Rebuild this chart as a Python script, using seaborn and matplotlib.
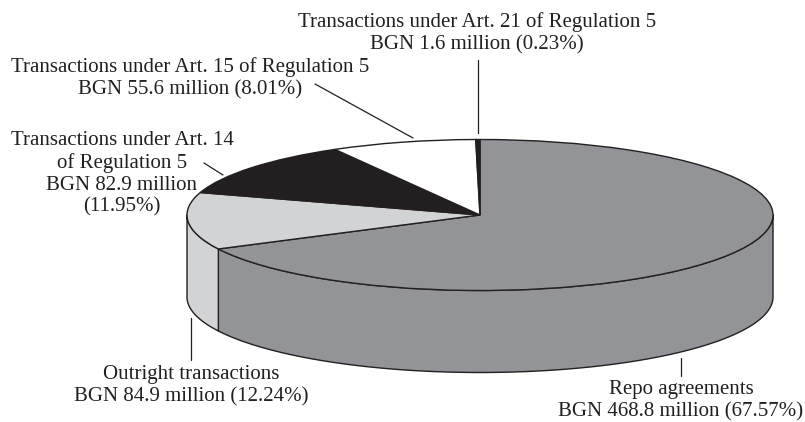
import numpy as np
import matplotlib
matplotlib.use("Agg")
import matplotlib.pyplot as plt
import seaborn as sns

categories = ["Repo agreements", "Outright transactions",
              "Transactions under Art. 14", "Transactions under Art. 15",
              "Transactions under Art. 21"]
values_bgn_million = [468.8, 84.9, 82.9, 55.6, 1.6]
shares_pct = [67.57, 12.24, 11.95, 8.01, 0.23]
colours = ["#929497", "#D1D3D4", "#231F20", "#FFFFFF", "#231F20"]

label_texts = [
    "Repo agreements\nBGN 468.8 million (67.57%)",
    "Outright transactions\nBGN 84.9 million (12.24%)",
    "Transactions under Art. 14\nof Regulation 5\nBGN 82.9 million\n(11.95%)",
    "Transactions under Art. 15 of Regulation 5\nBGN 55.6 million (8.01%)",
    "Transactions under Art. 21 of Regulation 5\nBGN 1.6 million (0.23%)",
]

sns.set_theme(style="white")
plt.rcParams["font.family"] = ["Liberation Serif", "DejaVu Serif"]

W, H = 805, 422
CX, CY, RX, RY, DEPTH = 480, 215, 293, 75.5, 82
INK = "#231F20"


def px(x, y):
    """Figure pixel position to pie units."""
    return (x - CX) / RX, (CY - y) / RY


fig = plt.figure(figsize=(W / 100, H / 100), dpi=100, facecolor="white")
ax = fig.add_axes([0, 0, 1, 1])

# side wall, from the same shares as the top
depth = DEPTH / RY
fractions = np.array(values_bgn_million) / np.sum(values_bgn_million)
edges = 90 - 360 * np.concatenate([[0], np.cumsum(fractions)])
for start, end, colour in zip(edges[:-1], edges[1:], colours):
    # visible wall is the lower half: 180..360 degrees, i.e. -180..0
    hi = min(start, 0)
    lo = max(end, -180)
    if hi <= lo:
        continue
    theta = np.radians(np.linspace(lo, hi, 120))
    xs = np.cos(theta)
    ys = np.sin(theta)
    ax.fill(np.r_[xs, xs[::-1]], np.r_[ys, ys[::-1] - depth],
            facecolor=colour, edgecolor=INK, linewidth=1.0, joinstyle="round")

ax.pie(values_bgn_million, colors=colours, startangle=90, counterclock=False,
       radius=1, center=(0, 0),
       wedgeprops=dict(edgecolor=INK, linewidth=1.0))
ax.set_aspect("auto")
x0, y0 = px(0, H)
x1, y1 = px(W, 0)
ax.set_xlim(x0, x1)
ax.set_ylim(y0, y1)
ax.set_axis_off()

text_centres = [(681, 401), (191, 386), (122, 174), (190, 78), (477, 33)]
for txt, (x, y) in zip(label_texts, text_centres):
    tx, ty = px(x, y)
    ax.text(tx, ty, txt, ha="center", va="center", fontsize=15.0,
            color=INK, linespacing=1.2)

leaders = [((681, 358), (681, 376)), ((191, 318), (191, 360)),
           ((204, 163), (223, 175)), ((315, 84), (413, 138)),
           ((478, 60), (478, 133))]
for a, b in leaders:
    pa, pb = px(*a), px(*b)
    ax.plot([pa[0], pb[0]], [pa[1], pb[1]], color=INK, linewidth=0.9)

fig.savefig("out.png", dpi=100)
